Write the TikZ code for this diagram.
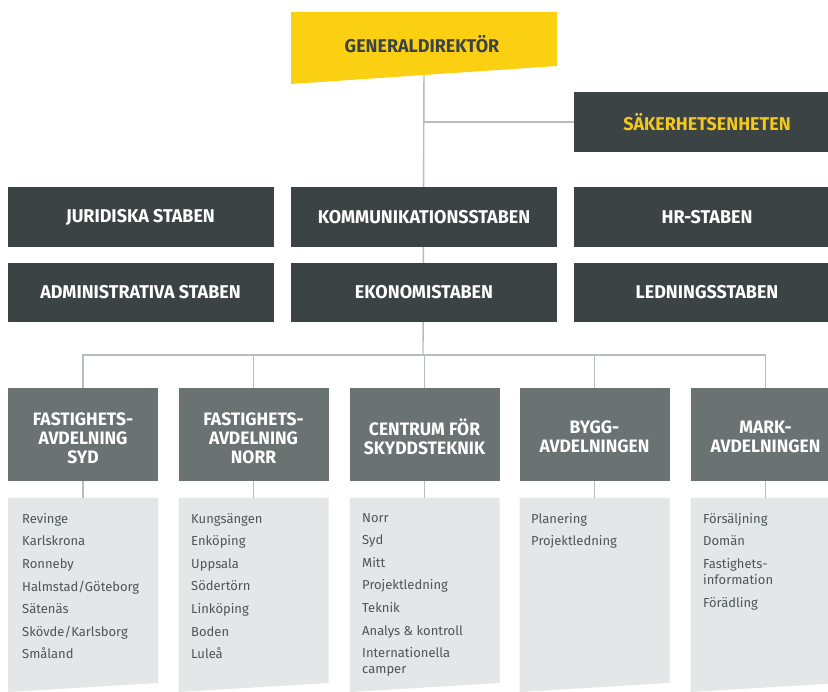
\documentclass[tikz,border=0pt]{standalone}
\usepackage{fontspec}
\setmainfont{Fira Sans}
\newfontfamily\headfont{Fira Sans}[FakeStretch=0.97]
\definecolor{gdyellow}{HTML}{FCD012}
\definecolor{darkbox}{HTML}{3B4345}
\definecolor{midbox}{HTML}{6A7272}
\definecolor{lightbox}{HTML}{E3E7E8}
\definecolor{linecol}{HTML}{B8BCBD}
\definecolor{listtext}{HTML}{4D5557}
\definecolor{saktext}{HTML}{F2C81E}
\tikzset{
  conn/.style={draw=linecol, line width=1.4pt},
  staff/.style={fill=darkbox, text=white, minimum width=266pt, minimum height=60pt, inner sep=0pt,
     font=\headfont\bfseries\fontsize{18.5}{20}\selectfont},
  dept/.style={fill=midbox, minimum width=150pt, minimum height=93pt, inner sep=0pt},
  depttext/.style={text=white, inner sep=0pt, align=center,
     font=\headfont\bfseries\fontsize{18}{19}\selectfont},
  listbox/.style={anchor=north west, inner sep=0pt, align=left, text=listtext,
     font=\fontsize{13}{16}\selectfont},
}
\begin{document}
\begin{tikzpicture}[x=1pt,y=-1pt]
\useasboundingbox (0,0) rectangle (828,692);
\clip (0,0) rectangle (828,692);
\fill[white] (0,0) rectangle (828,692);
% coordinates
\coordinate (bus) at (423,355);
\node[minimum width=266pt, minimum height=54pt, inner sep=0pt] (gd) at (424,39) {};
\node[staff, text=saktext] (sak) at (707,122) {SÄKERHETSENHETEN};
% lines
\draw[conn] (gd.south) -- (bus);
\draw[conn] (gd.south |- sak.west) -- (sak.west);
% yellow shape
\fill[gdyellow] (291,12) -- (557,12) -- (557,66) -- (291,84) -- cycle;
\node[text=darkbox, font=\headfont\bfseries\fontsize{18.5}{20}\selectfont] (gdtext) at (422,44) {GENERALDIREKTÖR};
\node[staff, text=saktext] at (707,122) {SÄKERHETSENHETEN};
\node[staff] (jur) at (140.5,217) {JURIDISKA STABEN};
\node[staff] (kom) at (424,217) {KOMMUNIKATIONSSTABEN};
\node[staff] (hr) at (707,217) {HR-STABEN};
\node[staff, minimum height=59pt] (adm) at (140.5,292.5) {ADMINISTRATIVA STABEN};
\node[staff, minimum height=59pt] (eko) at (424,292.5) {EKONOMISTABEN};
\node[staff, minimum height=59pt] (led) at (707,292.5) {LEDNINGSSTABEN};
% departments
\node[dept] (d1) at (83,434.5) {};
\node[dept] (d2) at (253.5,434.5) {};
\node[dept] (d3) at (424.5,434.5) {};
\node[dept] (d4) at (594.5,434.5) {};
\node[dept] (d5) at (765.5,434.5) {};
\node[depttext] (d1t) at ([yshift=-4pt]d1.center) {FASTIGHETS-\\AVDELNING\\SYD};
\node[depttext] (d2t) at ([yshift=-4pt]d2.center) {FASTIGHETS-\\AVDELNING\\NORR};
\node[depttext] (d3t) at ([yshift=-2.5pt]d3.center) {CENTRUM FÖR\\SKYDDSTEKNIK};
\node[depttext] (d4t) at ([yshift=-2.5pt]d4.center) {BYGG-\\AVDELNINGEN};
\node[depttext] (d5t) at ([yshift=-2.5pt]d5.center) {MARK-\\AVDELNINGEN};
\draw[conn] (d1.north) |- (bus) -| (d5.north);
\draw[conn] (d2.north) -- (d2.north |- bus);
\draw[conn] (d3.north) -- (d3.north |- bus);
\draw[conn] (d4.north) -- (d4.north |- bus);
% light boxes
\foreach \n/\xl in {1/8,2/178.5,3/349.5,4/519.5,5/690.5}{
  \fill[lightbox] (\xl,498) -- (\xl+150,498) -- (\xl+150,683) -- (\xl,692) -- cycle;
  \coordinate (l\n) at (\xl+75,498);
  \draw[conn] (d\n.south) -- (l\n);
}
\node[listbox] (t1) at (22,513) {Revinge\\[6.6pt]Karlskrona\\[6.6pt]Ronneby\\[6.6pt]Halmstad/Göteborg\\[6.6pt]Sätenäs\\[6.6pt]Skövde/Karlsborg\\[6.6pt]Småland};
\node[listbox] (t2) at (191,513) {Kungsängen\\[6.6pt]Enköping\\[6.6pt]Uppsala\\[6.6pt]Södertörn\\[6.6pt]Linköping\\[6.6pt]Boden\\[6.6pt]Luleå};
\node[listbox] (t3) at (362,513) {Norr\\[6.6pt]Syd\\[6.6pt]Mitt\\[6.6pt]Projektledning\\[6.6pt]Teknik\\[6.6pt]Analys \& kontroll\\[6.6pt]Internationella\\camper};
\node[listbox] (t4) at (531,513) {Planering\\[6.6pt]Projektledning};
\node[listbox] (t5) at (703,513) {Försäljning\\[6.6pt]Domän\\[6.6pt]Fastighets-\\information\\[6.6pt]Förädling};
\end{tikzpicture}
\end{document}
